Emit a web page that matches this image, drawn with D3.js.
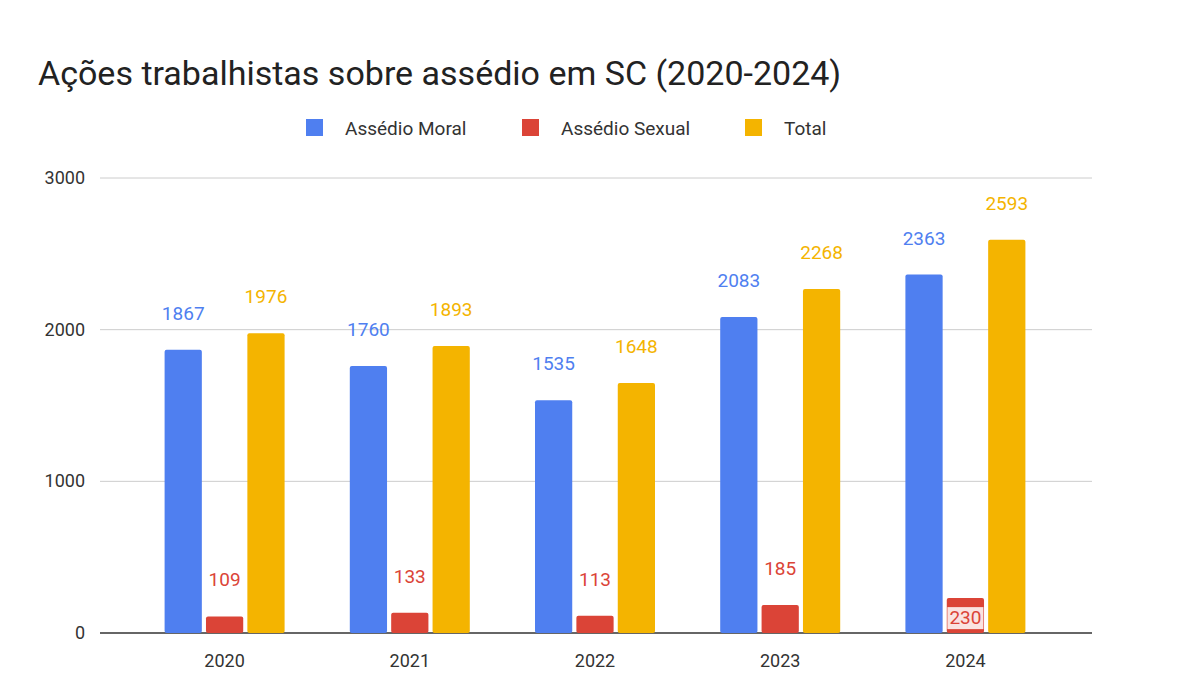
<!DOCTYPE html>
<html><head><meta charset="utf-8">
<script src="https://cdn.jsdelivr.net/npm/d3@7"></script>
<style>body{margin:0;background:#fff;font-family:Roboto,Arial,sans-serif}</style>
</head><body><svg width="1200" height="690"></svg>
<script>
const years = ["2020","2021","2022","2023","2024"];
const moral = [1867,1760,1535,2083,2363];
const sexual = [109,133,113,185,230];
const total = [1976,1893,1648,2268,2593];
const seriesNames = ["Assédio Moral","Assédio Sexual","Total"];
const colors = ["#4f7ff0","#db4437","#f4b400"];
const yTicks = [0,1000,2000,3000];

const svg = d3.select("svg");
const y = d3.scaleLinear().domain([0,3000]).range([633,178]);
const x = d3.scaleBand().domain(years).range([132,1058]);
const inner = d3.scaleBand().domain([0,1,2]).range([-60,60]).paddingInner(0.1);

svg.append("text").attr("x",38).attr("y",85).attr("font-size",34).attr("fill","#222")
  .text("Ações trabalhistas sobre assédio em SC (2020-2024)");

// legend
const lx = [306,522,745];
seriesNames.forEach((n,i)=>{
  svg.append("rect").attr("x",lx[i]).attr("y",119).attr("width",17).attr("height",17).attr("fill",colors[i]);
  svg.append("text").attr("x",lx[i]+39).attr("y",135).attr("font-size",19).attr("fill","#333").text(n);
});

// grid
yTicks.forEach(t=>{
  svg.append("line").attr("x1",100).attr("x2",1092).attr("y1",y(t)).attr("y2",y(t))
    .attr("stroke", t===0?"#333":"#ccc").attr("stroke-width", t===0?1.5:1);
  svg.append("text").attr("x",85).attr("y",y(t)+6).attr("text-anchor","end")
    .attr("font-size",18).attr("fill","#333").text(t);
});

const data = [moral,sexual,total];
data.forEach((vals,si)=>{
  const g = svg.append("g");
  g.selectAll("rect").data(vals).join("rect")
    .attr("x",(d,i)=>x(years[i])+x.bandwidth()/2+inner(si))
    .attr("width",inner.bandwidth())
    .attr("y",d=>y(d)).attr("height",d=>y(0)-y(d))
    .attr("fill",colors[si]).attr("rx",2);
  vals.forEach((d,i)=>{
    const cx = x(years[i])+x.bandwidth()/2+inner(si)+inner.bandwidth()/2;
    const inside = si===1 && i===4;
    const ty = inside ? y(d)+26 : y(d)-30;
    if (inside) g.append("rect").attr("x",cx-18).attr("y",ty-17).attr("width",36).attr("height",22).attr("fill","#fff").attr("opacity",0.85);
    g.append("text").attr("x",cx).attr("y",ty).attr("text-anchor","middle")
      .attr("font-size",19).attr("fill",colors[si]).text(d);
  });
});

svg.selectAll(".xl").data(years).join("text")
  .attr("x",d=>x(d)+x.bandwidth()/2).attr("y",667).attr("text-anchor","middle")
  .attr("font-size",18).attr("fill","#333").text(d=>d);
</script></body></html>
